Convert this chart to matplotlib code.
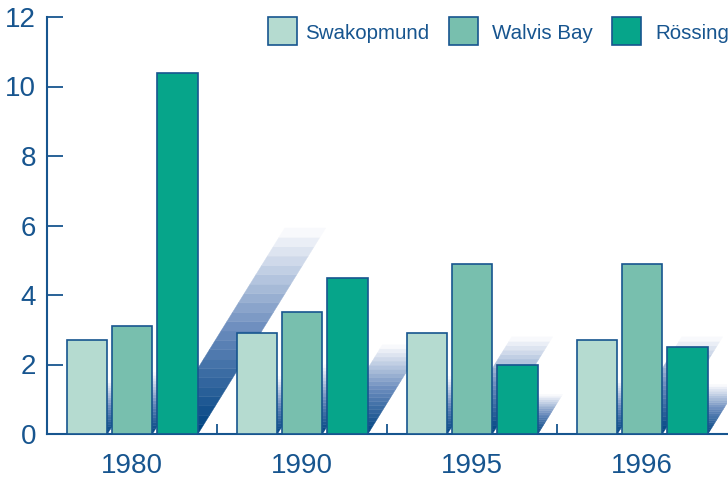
import matplotlib
matplotlib.use("Agg")
import matplotlib.pyplot as plt
from matplotlib.patches import Polygon, Rectangle
import numpy as np

years = ["1980", "1990", "1995", "1996"]
series_names = ["Swakopmund", "Walvis Bay", "Rössing"]
swakopmund = [2.7, 2.9, 2.9, 2.7]
walvis_bay = [3.1, 3.5, 4.9, 4.9]
rossing = [10.4, 4.5, 2.0, 2.5]
yticks = [0, 2, 4, 6, 8, 10, 12]

values = [swakopmund, walvis_bay, rossing]
colors = ["#b5dbd0", "#78bfae", "#06a58a"]
navy = "#17558f"
dark = np.array([0x00, 0x44, 0x82]) / 255.0
mid = np.array([0x68, 0x8a, 0xbc]) / 255.0
white = np.array([0xf8, 0xf9, 0xfc]) / 255.0


def grad(t):
    if t < 0.5:
        u = t / 0.5
        return dark * (1 - u) + mid * u
    u = (t - 0.5) / 0.5
    return mid * (1 - u) + white * u


plt.rcParams['font.family'] = ['Liberation Sans', 'DejaVu Sans']

W, H = 728, 479
fig = plt.figure(figsize=(W / 100, H / 100), dpi=100)
ax = fig.add_axes([47 / W, (H - 434) / H, (727 - 47) / W, (434 - 17) / H])

x = np.arange(len(years))
bw = 0.24
offsets = [-0.265, 0.0, 0.268]
shadow_k = 0.57      # shadow height relative to bar height
slope = 0.1267       # x-shift per unit of shadow height
nb = 22

for si, (vals, col, off) in enumerate(zip(values, colors, offsets)):
    for xi, v in zip(x, vals):
        xl = xi + off - bw / 2
        xr = xi + off + bw / 2
        sh = shadow_k * v
        for i in range(nb):
            y0 = sh * i / nb
            y1 = sh * (i + 1) / nb
            c = grad(i / (nb - 1))
            poly = Polygon([(xl + y0 * slope, y0), (xr + y0 * slope, y0),
                            (xr + y1 * slope, y1), (xl + y1 * slope, y1)],
                           closed=True, facecolor=c, edgecolor=c, lw=0.3,
                           zorder=1)
            ax.add_patch(poly)
    ax.bar(x + off, vals, width=bw, color=col, edgecolor=navy, linewidth=1.2,
           zorder=3)

ax.set_xlim(-0.5, 3.5)
ax.set_ylim(0, 12)
ax.set_yticks(yticks)
ax.set_yticklabels([str(t) for t in yticks])
ax.set_xticks(x)
ax.set_xticklabels(years)
ax.set_xticks([0.5, 1.5, 2.5], minor=True)

ax.tick_params(axis='y', direction='in', length=11.5, width=1.3, color=navy,
               labelcolor=navy, labelsize=20, pad=8)
ax.tick_params(axis='x', which='major', length=0, labelcolor=navy,
               labelsize=20, pad=13.5)
ax.tick_params(axis='x', which='minor', direction='in', length=7, width=1.3,
               color=navy)

for s in ['top', 'right']:
    ax.spines[s].set_visible(False)
for s in ['left', 'bottom']:
    ax.spines[s].set_color(navy)
    ax.spines[s].set_linewidth(1.5)

# legend (manual, pixel positions)
leg_boxes = [268, 449, 612]
leg_text = [305, 492, 655]
for name, col, bx, tx in zip(series_names, colors, leg_boxes, leg_text):
    fig.patches.append(Rectangle((bx / W, (H - 45) / H), 29 / W, 28 / H,
                                 transform=fig.transFigure, facecolor=col,
                                 edgecolor=navy, linewidth=1.2))
    fig.text(tx / W, (H - 39) / H, name, color=navy, fontsize=14.8,
             ha='left', va='baseline')

fig.savefig("out.png", dpi=100)
